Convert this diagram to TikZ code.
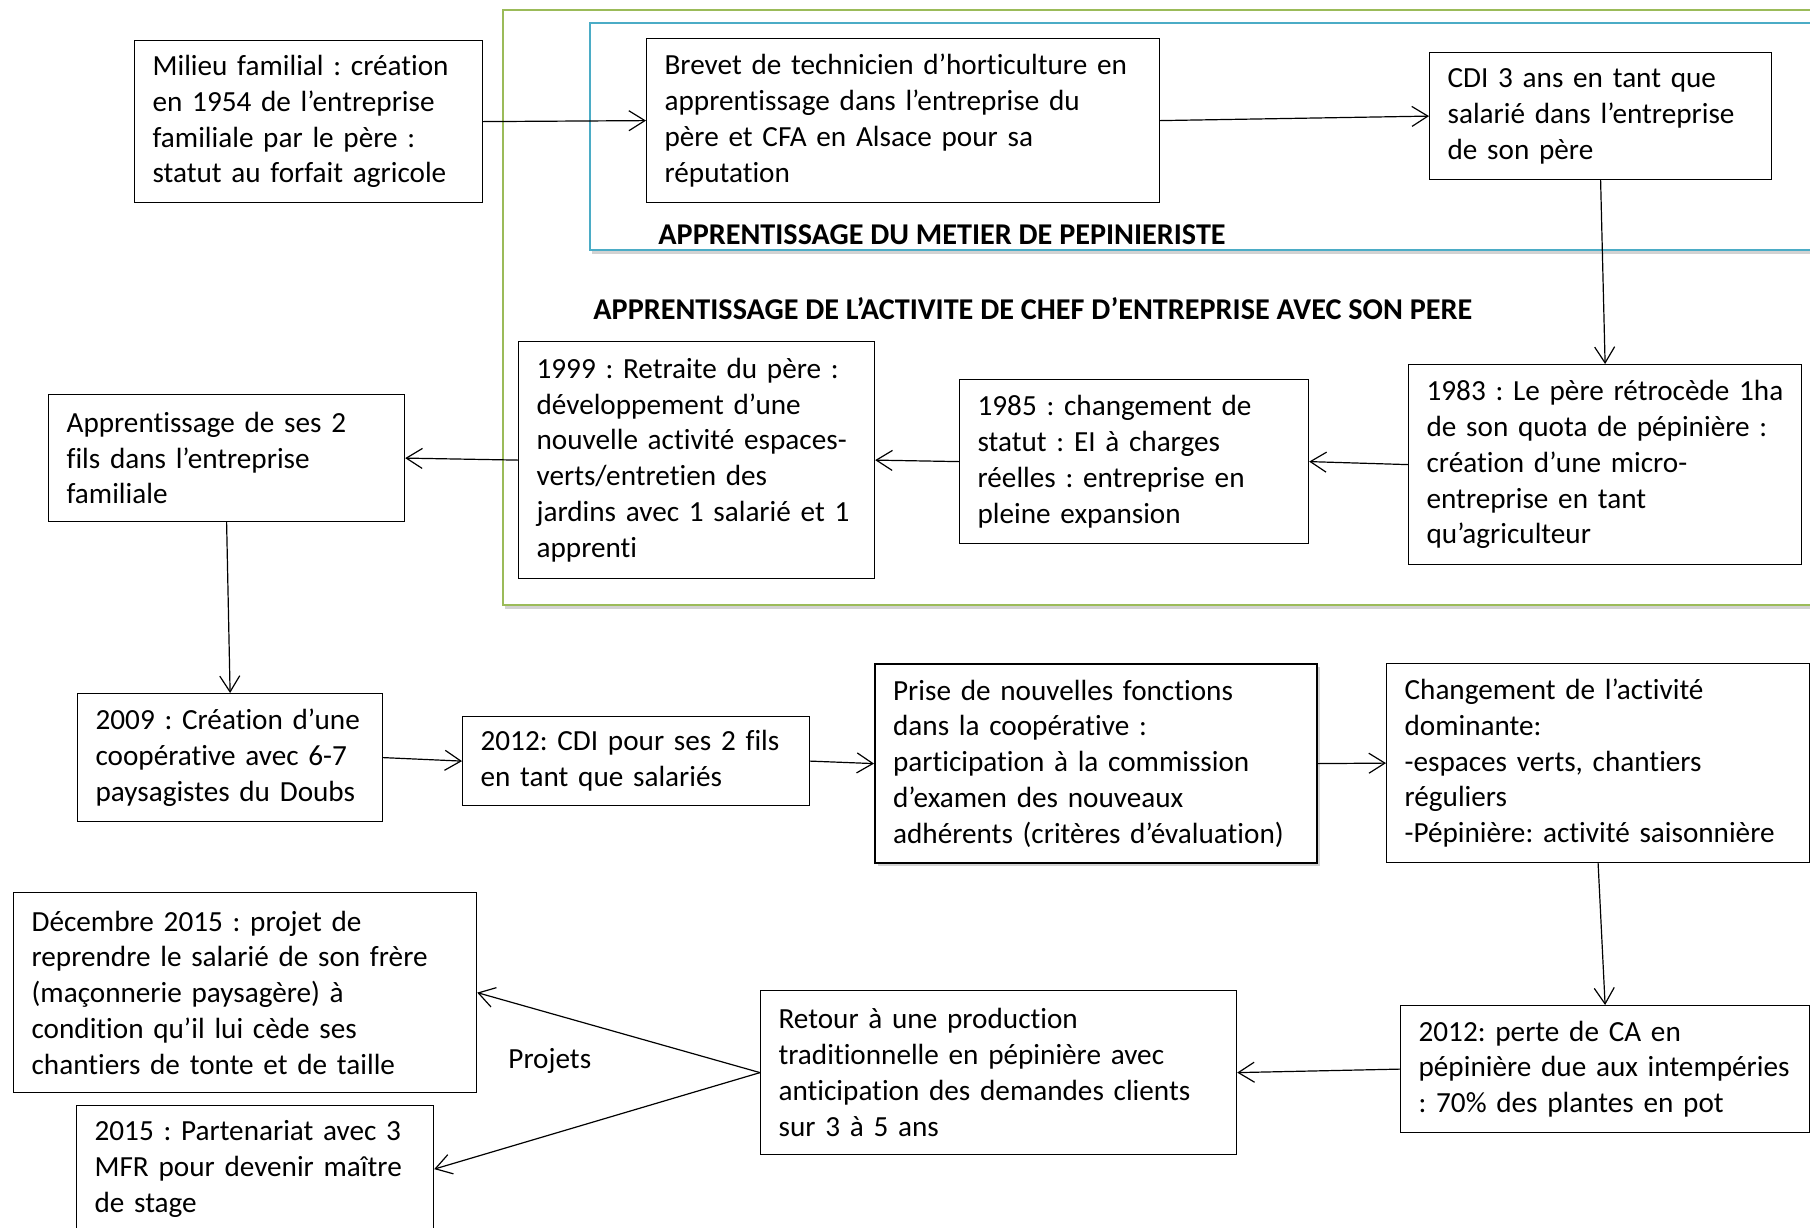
\documentclass[tikz,border=0pt]{standalone}
\usepackage{fontspec}
\setmainfont{Carlito}[Ligatures=CommonOff]
\usetikzlibrary{arrows.meta,shadows}
\definecolor{framegreen}{RGB}{155,187,89}
\definecolor{frameblue}{RGB}{75,172,198}
\tikzset{
  box/.style={draw, fill=white, line width=0.6pt, anchor=north west, align=left, inner xsep=9pt, inner ysep=0pt,
    font=\fontsize{14.6pt}{17.9pt}\selectfont},
  keybox/.style={box, line width=1.1pt, drop shadow={opacity=0.35, shadow xshift=1.5pt, shadow yshift=-1.5pt}},
  frame/.style={fill=white, line width=1.3pt, drop shadow={opacity=0.35, shadow xshift=1pt, shadow yshift=-2pt}},
  heading/.style={anchor=west, inner sep=0pt, font=\fontsize{15.1pt}{17.9pt}\selectfont\bfseries},
  link/.style={->, line width=0.6pt}
}
\frenchspacing
\begin{document}
\begin{tikzpicture}[x=0.5pt, y=-0.5pt, >={Straight Barb[length=8pt,width=10pt]}]
\useasboundingbox[fill=white] (0,0) rectangle (1810,1227);
\draw[frame, draw=framegreen] (503,10) rectangle (1830,605);
\draw[frame, draw=frameblue] (590,23) rectangle (1830,250);
\node[heading] (metier) at (658,235) {APPRENTISSAGE DU METIER DE PEPINIERISTE};
\node[heading] (chef) at (593,309) {APPRENTISSAGE DE L’ACTIVITE DE CHEF D’ENTREPRISE AVEC SON PERE};

\node[box, text width=156pt, minimum height=81pt] (milieu) at (134,40) {Milieu familial : création\\en 1954 de l’entreprise\\familiale par le père :\\statut au forfait agricole};
\node[box, text width=238.5pt, minimum height=82pt] (brevet) at (646,38) {Brevet de technicien d’horticulture en\\apprentissage dans l’entreprise du\\père et CFA en Alsace pour sa\\réputation};
\node[box, text width=153pt, minimum height=63.5pt] (cdi) at (1429,52) {CDI 3 ans en tant que\\salarié dans l’entreprise\\de son père};
\node[box, text width=178.5pt, minimum height=100pt] (retro) at (1408,364) {1983 : Le père rétrocède 1ha\\de son quota de pépinière :\\création d’une micro-\\entreprise en tant\\qu’agriculteur};
\node[box, text width=156.5pt, minimum height=82pt] (statut) at (959,379) {1985 : changement de\\statut : EI à charges\\réelles : entreprise en\\pleine expansion};
\node[box, text width=160pt, minimum height=118.5pt] (retraite) at (518,341) {1999 : Retraite du père :\\développement d’une\\nouvelle activité espaces-\\verts/entretien des\\jardins avec 1 salarié et 1\\apprenti};
\node[box, text width=160pt, minimum height=63.5pt] (fils) at (48,394) {Apprentissage de ses 2\\fils dans l’entreprise\\familiale};
\node[box, text width=134.5pt, minimum height=64pt] (coop) at (77,693) {2009 : Création d’une\\coopérative avec 6-7\\paysagistes du Doubs};
\node[box, text width=155.5pt, minimum height=44.5pt] (cdifils) at (462,716) {2012: CDI pour ses 2 fils\\en tant que salariés};
\node[keybox, text width=203pt, minimum height=99.5pt] (fonctions) at (874,663) {Prise de nouvelles fonctions\\dans la coopérative :\\participation à la commission\\d’examen des nouveaux\\adhérents (critères d’évaluation)};
\node[box, text width=193.5pt, minimum height=99.5pt] (dominante) at (1386,663) {Changement de l’activité\\dominante:\\-espaces verts, chantiers\\réguliers\\-Pépinière: activité saisonnière};
\node[box, text width=186.5pt, minimum height=63.5pt] (perte) at (1400,1005) {2012: perte de CA en\\pépinière due aux intempéries\\: 70\% des plantes en pot};
\node[box, text width=220pt, minimum height=82pt] (retour) at (760,990) {Retour à une production\\traditionnelle en pépinière avec\\anticipation des demandes clients\\sur 3 à 5 ans};
\node[box, text width=213.5pt, minimum height=100pt] (frere) at (13,892) {Décembre 2015 : projet de\\reprendre le salarié de son frère\\(maçonnerie paysagère) à\\condition qu’il lui cède ses\\chantiers de tonte et de taille};
\node[box, text width=160.5pt, minimum height=63.5pt] (mfr) at (76,1105) {2015 : Partenariat avec 3\\MFR pour devenir maître\\de stage};
\node[heading, font=\fontsize{14.6pt}{17.9pt}\selectfont] (projets) at (508,1061) {Projets};

\draw[link] (milieu.east) -- (brevet.west);
\draw[link] (brevet.east) -- (cdi.west);
\draw[link] (cdi.south) -- (retro.north);
\draw[link] (retro.west) -- (statut.east);
\draw[link] (statut.west) -- (retraite.east);
\draw[link] (retraite.west) -- (fils.east);
\draw[link] (fils.south) -- (coop.north);
\draw[link] (coop.east) -- (cdifils.west);
\draw[link] (cdifils.east) -- (fonctions.west);
\draw[link] (fonctions.east) -- (dominante.west);
\draw[link] (dominante.south) -- (perte.north);
\draw[link] (perte.west) -- (retour.east);
\draw[link] (retour.west) -- (frere.east);
\draw[link] (retour.west) -- (mfr.east);
\end{tikzpicture}
\end{document}
